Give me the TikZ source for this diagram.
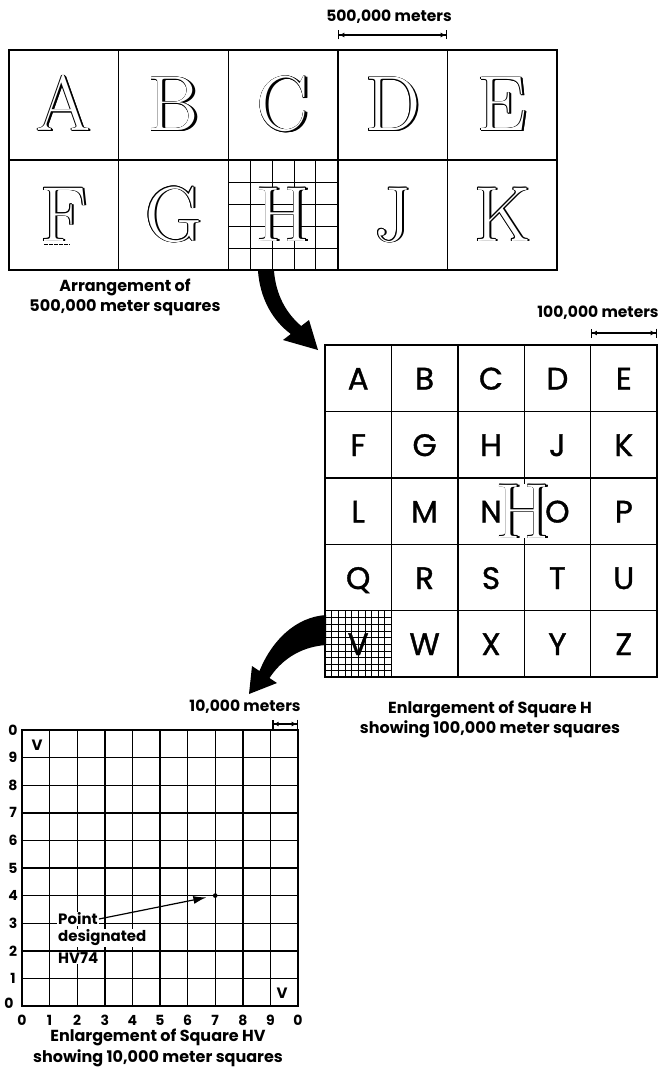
\documentclass[tikz,border=0pt]{standalone}
\usepackage{fontspec}
\newfontfamily\pop{Poppins}
\newfontfamily\popm[FakeBold=1.2]{Poppins}
\usetikzlibrary{arrows.meta}
\newcommand\engr[1]{\setbox0\hbox{#1}%
 \rlap{\kern0.9pt\copy0}\rlap{\kern-0.9pt\copy0}%
 \rlap{\raise0.9pt\copy0}\rlap{\lower0.9pt\copy0}%
 \rlap{\kern0.65pt\raise0.65pt\copy0}\rlap{\kern-0.65pt\raise0.65pt\copy0}%
 \rlap{\kern0.65pt\lower0.65pt\copy0}\rlap{\kern-0.65pt\lower0.65pt\copy0}%
 \rlap{\kern2.2pt\lower0.4pt\copy0}\rlap{\kern1.6pt\lower0.3pt\copy0}%
 \rlap{\color{white}\copy0}\hphantom{\copy0}}
\begin{document}
\begin{tikzpicture}[x=1pt,y=-1pt,
 thickbd/.style={line width=2.6pt},
 thinln/.style={line width=1.4pt},
 hatchln/.style={line width=0.8pt},
 toplet/.style={anchor=base,inner sep=0pt,font=\fontsize{78}{80}\selectfont},
 midlet/.style={anchor=base,inner sep=0pt,font=\popm\fontsize{31}{33}\selectfont},
 lab/.style={font=\pop\bfseries\fontsize{15.5}{18}\selectfont,inner sep=0pt},
 captxt/.style={font=\pop\bfseries\fontsize{16}{20.5}\selectfont,align=center,inner sep=0pt},
 axl/.style={font=\pop\bfseries\fontsize{14}{16}\selectfont,inner sep=0pt},
 dimln/.style={line width=1.3pt,{Bar[width=9pt]Latex[length=5pt,width=5pt]}-{Latex[length=5pt,width=5pt]Bar[width=9pt]}},
 ptlab/.style={font=\pop\bfseries\fontsize{15}{17}\selectfont,fill=white,inner sep=1pt,anchor=west}]
\fill[white] (0,0) rectangle (659,1067);
\useasboundingbox (0,0) rectangle (659,1067);

% ---------- top grid ----------
\foreach \k in {1,...,4} \draw[thinln] ({9+\k*109.6},50) -- ({9+\k*109.6},270);
\draw[line width=2pt] (9,160) -- (557,160);
\foreach \k in {1,...,4} {
  \draw[hatchln] ({228.2+\k*21.92},160) -- ({228.2+\k*21.92},270);
  \draw[hatchln] (228.2,{160+\k*22}) -- (337.8,{160+\k*22});
}
\draw[thickbd] (9,50) rectangle (557,270);
\foreach \l [count=\i from 0] in {A,B,C,D,E}
  \node[toplet] (t\l) at ({9+(\i+0.5)*109.6},131) {\engr{\l}};
\foreach \l [count=\i from 0] in {F,G,H,J,K}
  \node[toplet] (t\l) at ({9+(\i+0.5)*109.6},241) {\engr{\l}};
\draw[line width=0.8pt,dash pattern=on 4pt off 1pt] (44,244) -- (70,244);

\node[lab] (dimtop) at (389,17) {500,000 meters};
\coordinate (dt1) at (338,35); \coordinate (dt2) at (447,35);
\draw[dimln] (dt1) -- (dt2);

\node[captxt] (captop) at (125,297.5) {Arrangement of\\500,000 meter squares};

% ---------- top arrow ----------
\fill[black] (258,271) .. controls (260,298) and (272,320) .. (290.8,334)
  -- (283,340) -- (318,350) -- (309,320) -- (301.2,326)
  .. controls (286,313) and (276,295) .. (274,271) -- cycle;

% ---------- middle grid ----------
\foreach \k in {1,...,9} {
  \draw[line width=0.6pt] ({325+\k*6.64},611) -- ({325+\k*6.64},677.4);
  \draw[line width=0.6pt] (325,{611+\k*6.64}) -- (391.4,{611+\k*6.64});
}
% bottom arrow
\fill[black] (326,615) .. controls (296,617) and (272,640) .. (259.5,671)
  -- (252,666) -- (249,694) -- (277,683) -- (269.5,678)
  .. controls (280,662) and (298,647) .. (326,645) -- cycle;
\foreach \k in {1,...,4} {
  \draw[thinln] ({325+\k*66.4},345) -- ({325+\k*66.4},677);
  \draw[thinln] (325,{345+\k*66.4}) -- (657,{345+\k*66.4});
}
\draw[thickbd] (325,345) rectangle (657,677);
\foreach \l [count=\i from 0] in {A,B,C,D,E}
  \node[midlet] (m\l) at ({325+(\i+0.5)*66.4},389.5) {\l};
\foreach \l [count=\i from 0] in {F,G,H,J,K}
  \node[midlet] (m\l) at ({325+(\i+0.5)*66.4},456) {\l};
\foreach \l [count=\i from 0] in {L,M,N,O,P}
  \node[midlet] (m\l) at ({325+(\i+0.5)*66.4},522.5) {\l};
\foreach \l [count=\i from 0] in {Q,R,S,T,U}
  \node[midlet] (m\l) at ({325+(\i+0.5)*66.4},589) {\l};
\foreach \l [count=\i from 0] in {V,W,X,Y,Z}
  \node[midlet] (m\l) at ({325+(\i+0.5)*66.4},655) {\l};
\fill[white] (502,484) rectangle (544,538);
\node[toplet,font=\fontsize{78}{80}\selectfont] (hov) at (523,538) {\engr{H}};

\node[lab] (dimmid) at (598,313) {100,000 meters};
\coordinate (dm1) at (590.6,333); \coordinate (dm2) at (657,333);
\draw[dimln] (dm1) -- (dm2);

\node[captxt] (capmid) at (490,719.5) {Enlargement of Square H\\showing 100,000 meter squares};

% ---------- bottom grid ----------
\foreach \k in {1,...,9} {
  \draw[thinln] ({22+\k*27.6},730) -- ({22+\k*27.6},1006);
  \draw[thinln] (22,{730+\k*27.6}) -- (298,{730+\k*27.6});
}
\draw[thickbd] (22,730) rectangle (298,1006);

\foreach \k in {1,...,9} \node[axl] (yl\k) at (13,{1006-\k*27.6}) {\k};
\node[axl] (yl0) at (9,1003) {0};
\node[axl] (yl10) at (13,730) {0};
\node[axl] (xl0) at (22,1020) {0};
\foreach \k in {1,...,9} \node[axl] (xl\k) at ({22+\k*27.6},1020) {\k};
\node[axl] (xl10) at (298,1020) {0};

\node[axl,font=\pop\bfseries\fontsize{15}{17}\selectfont] (vtl) at (37,745) {V};
\node[axl,font=\pop\bfseries\fontsize{15}{17}\selectfont] (vbr) at (282,993) {V};

\node[lab] (dimbot) at (245,707) {10,000 meters};
\coordinate (db1) at (272.4,724); \coordinate (db2) at (298,724);
\draw[dimln] (db1) -- (db2);

\coordinate (dot) at (215.2,895.6);
\fill (dot) circle (2.3);
\node[ptlab] (pt1) at (57,919) {Point};
\node[ptlab] (pt2) at (57,938) {designated};
\node[ptlab] (pt3) at (57,958) {HV74};
\draw[line width=1.2pt,-{Latex[length=13pt,width=8pt]},shorten >=9pt] (pt1.east) -- (dot);

\node[captxt] (capbot) at (158,1048) {Enlargement of Square HV\\showing 10,000 meter squares};
\end{tikzpicture}
\end{document}
